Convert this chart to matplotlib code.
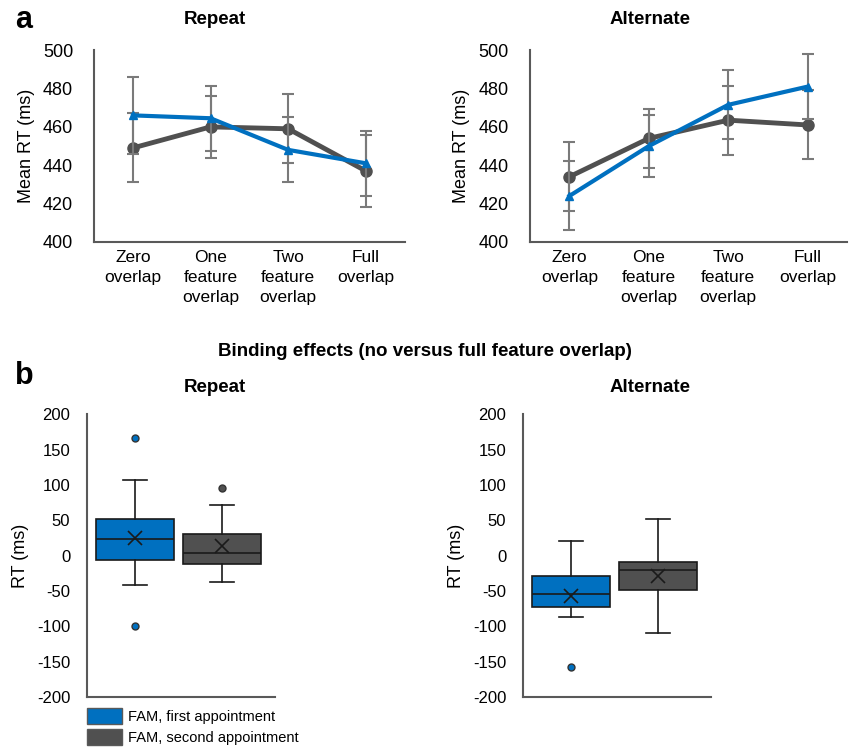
import matplotlib
matplotlib.use("Agg")
import matplotlib.pyplot as plt
from matplotlib.patches import Patch

plt.rcParams['font.family'] = ['Liberation Sans', 'DejaVu Sans']
plt.rcParams['axes.unicode_minus'] = False

BLUE = '#0070C0'
GREY = '#505050'
ERR = '#7a7a7a'

# panel a: mean RT per overlap condition
conds = ['Zero\noverlap', 'One\nfeature\noverlap', 'Two\nfeature\noverlap', 'Full\noverlap']
rep_first = [466, 464.5, 448, 441]
rep_first_err = [20, 17, 17, 17]
rep_second = [449, 460, 459, 437]
rep_second_err = [18, 16, 18, 19]
alt_first = [424, 450, 471.5, 481]
alt_first_err = [18, 16, 18, 17]
alt_second = [434, 454, 463.5, 461]
alt_second_err = [18, 15.5, 18, 18]

# panel b: binding effects, box stats
rep_box_first = dict(med=23, q1=-6.5, q3=52, whislo=-41, whishi=107, mean=25.5, fliers=[166.5, -99])
rep_box_second = dict(med=3.5, q1=-12, q3=30, whislo=-38, whishi=72, mean=13.3, fliers=[95])
alt_box_first = dict(med=-54, q1=-73, q3=-29, whislo=-87.5, whishi=20, mean=-57, fliers=[-157])
alt_box_second = dict(med=-21, q1=-48.5, q3=-9, whislo=-110, whishi=52, mean=-28.7, fliers=[])

legend_labels = ['FAM, first appointment', 'FAM, second appointment']

fig = plt.figure(figsize=(8.49, 7.49), dpi=100)


def style_axes(ax, size, pad):
    for s in ['top', 'right']:
        ax.spines[s].set_visible(False)
    for s in ['left', 'bottom']:
        ax.spines[s].set_color('#595959')
        ax.spines[s].set_linewidth(1.5)
    ax.tick_params(axis='y', length=0, labelsize=size, pad=pad)
    ax.tick_params(axis='x', length=0, labelsize=12.5, pad=6)


def line_panel(rect, first, first_err, second, second_err):
    ax = fig.add_axes(rect)
    x = list(range(len(conds)))
    ax.errorbar(x, second, yerr=second_err, color=GREY, lw=3.5, marker='o', ms=8,
                ecolor=ERR, elinewidth=1.5, capsize=4.5, capthick=1.5, zorder=3)
    ax.errorbar(x, first, yerr=first_err, color=BLUE, lw=3, marker='^', ms=6,
                ecolor=ERR, elinewidth=1.5, capsize=4.5, capthick=1.5, zorder=4)
    ax.set_xlim(-0.5, 3.5)
    ax.set_ylim(400, 500)
    ax.set_yticks(range(400, 501, 20))
    ax.set_xticks(x)
    ax.set_xticklabels(conds, fontsize=12.5, linespacing=1.4)
    ax.set_ylabel('Mean RT (ms)', fontsize=13, labelpad=6)
    style_axes(ax, 13, 15)
    return ax


def box_panel(rect, stats):
    ax = fig.add_axes(rect)
    ax.bxp(stats, positions=[1, 2], widths=0.9, showmeans=True, patch_artist=True,
           capwidths=0.27,
           boxprops=dict(edgecolor='#1a1a1a', linewidth=1.2),
           medianprops=dict(color='#1a1a1a', linewidth=1.2),
           whiskerprops=dict(color='#1a1a1a', linewidth=1.2),
           capprops=dict(color='#1a1a1a', linewidth=1.2),
           meanprops=dict(marker='x', markeredgecolor='#1a1a1a', markersize=10, markeredgewidth=1.2),
           flierprops=dict(marker='o', markersize=5, markeredgecolor='#333333'))
    for patch, c in zip(ax.patches, [BLUE, GREY]):
        patch.set_facecolor(c)
    fl = [l for l in ax.lines if l.get_marker() == 'o']
    for l, c in zip(fl, [BLUE, GREY]):
        l.set_markerfacecolor(c)
    ax.set_xlim(0.45, 2.61)
    ax.set_ylim(-200, 200)
    ax.set_yticks(range(-200, 201, 50))
    ax.set_xticks([])
    ax.set_ylabel('RT (ms)', fontsize=13, labelpad=6)
    style_axes(ax, 12, 12)
    return ax


line_panel([0.1107, 0.677, 0.366, 0.256], rep_first, rep_first_err, rep_second, rep_second_err)
line_panel([0.624, 0.677, 0.374, 0.256], alt_first, alt_first_err, alt_second, alt_second_err)

box_panel([0.1025, 0.0694, 0.2215, 0.3776], [rep_box_first, rep_box_second])
box_panel([0.616, 0.0694, 0.2215, 0.3776], [alt_box_first, alt_box_second])

# titles and panel letters
tkw = dict(ha='center', va='center', fontsize=13.5, fontweight='bold')
fig.text(215 / 849, 1 - 20 / 749, 'Repeat', **tkw)
fig.text(650 / 849, 1 - 20 / 749, 'Alternate', **tkw)
fig.text(215 / 849, 1 - 388 / 749, 'Repeat', **tkw)
fig.text(650 / 849, 1 - 388 / 749, 'Alternate', **tkw)
fig.text(425 / 849, 1 - 352 / 749, 'Binding effects (no versus full feature overlap)', **tkw)
fig.text(15 / 849, 1 - 20 / 749, 'a', ha='left', va='center', fontsize=22, fontweight='bold')
fig.text(15 / 849, 1 - 376 / 749, 'b', ha='left', va='center', fontsize=22, fontweight='bold')

handles = [Patch(facecolor=BLUE, edgecolor='#595959'), Patch(facecolor=GREY, edgecolor='#595959')]
fig.legend(handles, legend_labels, loc='upper left', bbox_to_anchor=(87 / 849, 1 - 708 / 749),
           frameon=False, fontsize=10.5, handlelength=2.4, handleheight=1.3,
           handletextpad=0.4, labelspacing=0.35, borderpad=0, borderaxespad=0)

fig.savefig('out.png', dpi=100)
